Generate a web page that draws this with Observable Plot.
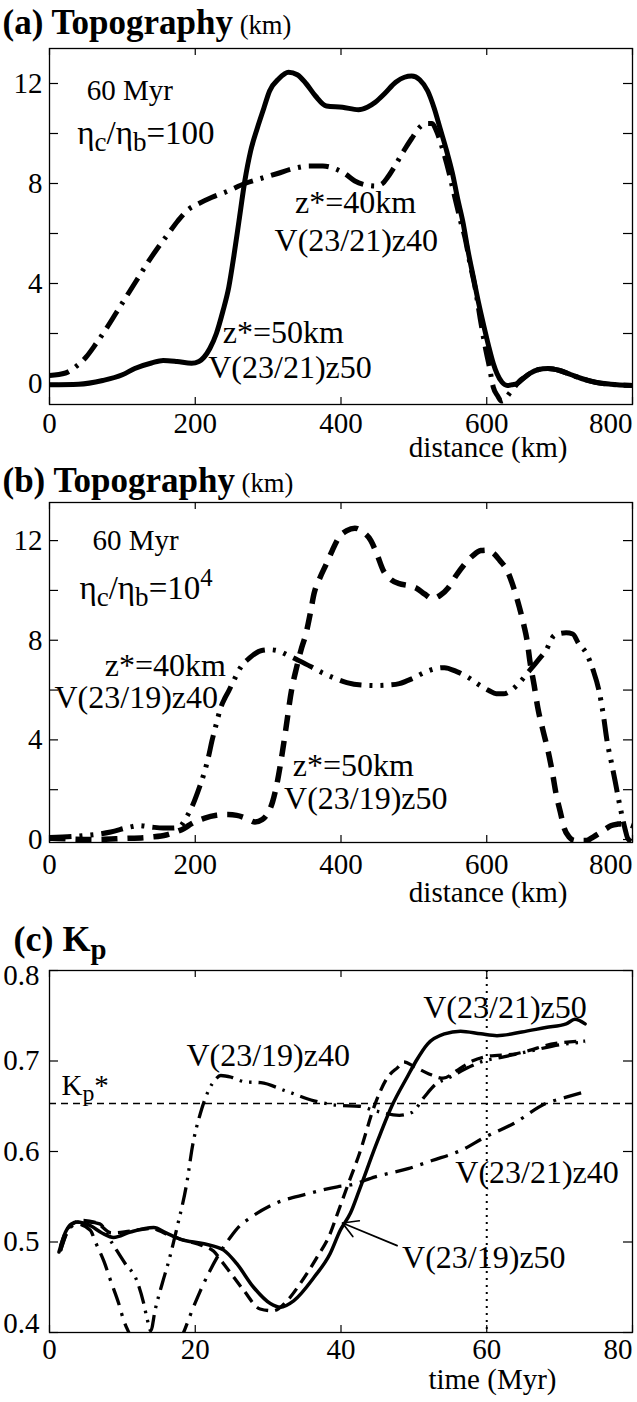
<!DOCTYPE html>
<html><head><meta charset="utf-8">
<script src="https://cdn.jsdelivr.net/npm/d3@7"></script>
<script src="https://cdn.jsdelivr.net/npm/@observablehq/plot@0.6"></script>
<style>
html,body{margin:0;padding:0;background:#fff;overflow:hidden;}
#chart svg{display:block;}
</style></head><body><div id="chart"></div>
<script>
// ---------------- data ----------------
// (a) topography, eta_c/eta_b = 100, 60 Myr  [distance km, topography km]
const a_V2321z50 = [[0,-0.05],[40,-0.03],[73,0.12],[100,0.35],[117,0.6],[140,0.82],[156,0.92],[175,0.88],[195,0.81],[205,0.88],[212,1.05],[220,1.4],[229,2.0],[238,2.9],[246,3.85],[253,5.1],[260,6.5],[268,8.1],[276,9.3],[285,10.2],[294,11.0],[302,11.7],[315,12.2],[328,12.45],[340,12.35],[352,12.0],[365,11.5],[380,11.1],[402,11.05],[424,10.95],[436,11.05],[447,11.25],[460,11.6],[475,12.05],[487,12.25],[497,12.3],[508,12.15],[519,11.7],[528,11.0],[536,10.2],[545,9.3],[553,8.4],[560,7.4],[567,6.5],[575,5.2],[582,4.2],[589,3.2],[596,2.3],[603,1.45],[609,0.8],[614,0.4],[621,0.05],[628,-0.08],[635,-0.05],[642,0.0],[650,0.2],[659,0.4],[670,0.55],[684,0.6],[700,0.52],[715,0.36],[730,0.2],[749,0.05],[770,-0.03],[800,-0.08]];
const a_V2321z40 = [[0,0.32],[22,0.42],[35,0.65],[50,1.05],[64,1.6],[78,2.2],[92,2.85],[106,3.5],[120,4.15],[134,4.8],[148,5.4],[162,5.95],[176,6.5],[190,6.95],[205,7.2],[223,7.45],[245,7.7],[268,8.0],[290,8.2],[313,8.4],[335,8.6],[357,8.7],[375,8.7],[391,8.6],[405,8.4],[419,8.1],[433,7.95],[447,7.9],[457,8.0],[464,8.25],[475,8.75],[486,9.3],[497,9.8],[508,10.25],[517,10.4],[525,10.4],[531,10.1],[536,9.7],[545,8.8],[553,7.85],[559,7.1],[564,6.5],[570,5.85],[577,4.8],[584,3.85],[591,2.6],[598,1.45],[604,0.6],[609,-0.15],[615,-0.5],[620,-0.7],[626,-0.6],[631,-0.4],[638,-0.15],[645,0.1],[652,0.25],[659,0.4],[670,0.55],[684,0.6],[700,0.52],[715,0.36],[730,0.2],[749,0.05],[770,-0.03],[800,-0.08]];
// (b) topography, eta_c/eta_b = 10^4, 60 Myr
const b_V2319z50 = [[0,0.05],[11,0.04],[61,0.0],[100,0.04],[140,0.1],[160,0.18],[173,0.3],[185,0.45],[195,0.64],[212,0.85],[229,0.97],[245,1.0],[257,0.97],[270,0.85],[282,0.7],[292,0.8],[299,1.03],[306,1.5],[313,2.37],[319,3.4],[324,4.37],[332,5.97],[339,6.9],[346,7.7],[352,8.27],[358,9.1],[363,9.87],[371,10.5],[380,11.07],[388,11.6],[397,12.12],[408,12.4],[419,12.5],[430,12.35],[441,12.0],[450,11.4],[458,10.8],[468,10.45],[480,10.27],[492,10.2],[503,10.1],[515,9.85],[525,9.67],[536,9.8],[547,10.1],[558,10.6],[570,11.07],[581,11.4],[592,11.6],[601,11.62],[609,11.5],[618,11.2],[628,10.8],[637,10.1],[645,9.3],[651,8.6],[656,7.87],[659,7.2],[665,6.2],[670,5.3],[677,4.4],[684,3.57],[690,2.7],[695,1.85],[701,1.1],[706,0.48],[713,0.1],[721,-0.04],[737,-0.04],[746,0.1],[754,0.24],[763,0.42],[771,0.56],[780,0.62],[788,0.64],[795,0.6],[800,0.55]];
const b_V2319z40 = [[0,0.08],[45,0.15],[84,0.3],[110,0.5],[123,0.56],[140,0.5],[156,0.46],[170,0.46],[179,0.52],[187,0.85],[195,1.28],[204,1.95],[212,2.65],[218,3.3],[223,3.97],[229,4.65],[235,5.3],[241,5.7],[246,5.97],[254,6.45],[262,6.9],[275,7.3],[290,7.58],[302,7.62],[313,7.58],[327,7.4],[341,7.2],[358,6.95],[374,6.7],[391,6.48],[408,6.3],[428,6.2],[447,6.18],[464,6.2],[480,6.26],[497,6.45],[514,6.7],[528,6.85],[542,6.9],[558,6.75],[575,6.5],[590,6.2],[603,5.98],[613,5.85],[623,5.85],[634,6.0],[645,6.3],[655,6.65],[662,6.9],[672,7.25],[681,7.58],[693,8.2],[709,8.3],[718,8.25],[726,7.87],[737,7.46],[746,6.8],[754,5.98],[760,5.0],[765,3.97],[771,3.1],[776,2.37],[781,1.6],[785,1.03],[790,0.4],[793,0.08],[800,-0.12]];
// (c) Kp versus time [Myr, Kp]
const c_V2321z50 = [[1.3,0.489],[2.2,0.511],[3.0,0.52],[3.8,0.522],[5.6,0.518],[7.2,0.51],[8.8,0.505],[11.1,0.511],[14.3,0.516],[16,0.51],[18,0.503],[21.2,0.498],[23.9,0.491],[25.7,0.476],[28,0.45],[30.3,0.432],[31.7,0.428],[33.5,0.435],[36.3,0.461],[38.5,0.487],[39.9,0.513],[41.3,0.532],[42.5,0.557],[44.7,0.605],[46.9,0.649],[49.2,0.684],[50.3,0.7],[51.9,0.719],[54.2,0.73],[56.4,0.733],[59.2,0.73],[61.4,0.728],[64.8,0.732],[68.1,0.737],[70.9,0.741],[72.1,0.746],[73.5,0.741]];
const c_V2319z50 = [[1.5,0.495],[2.5,0.515],[4.5,0.524],[6.5,0.521],[8.5,0.51],[11,0.512],[14,0.515],[16,0.509],[18,0.503],[21,0.496],[22.5,0.49],[23.7,0.478],[25.2,0.462],[26.7,0.446],[28.9,0.426],[30.7,0.424],[32.6,0.435],[34.4,0.454],[36.7,0.483],[38.5,0.509],[39.5,0.531],[40.8,0.56],[42.5,0.597],[44.7,0.653],[46.4,0.682],[47.8,0.693],[48.6,0.699],[50,0.694],[52,0.686],[54,0.681],[56,0.69],[58,0.7],[60,0.705],[64,0.708],[66,0.712],[68,0.717],[70,0.72],[73.5,0.722]];
const c_V2321z40 = [[1.5,0.49],[2.5,0.512],[3.8,0.52],[5.6,0.513],[6.3,0.5],[7.5,0.478],[8.4,0.457],[9.5,0.432],[10.2,0.413],[11,0.398],[12,0.38],[14,0.35],[16,0.36],[17.5,0.385],[18.4,0.4],[19.5,0.423],[20.7,0.446],[22,0.468],[23,0.483],[24.8,0.505],[26,0.517],[27.6,0.527],[30.8,0.542],[35.3,0.553],[39.5,0.561],[41.3,0.563],[44.7,0.572],[49.2,0.581],[52.5,0.59],[56.4,0.601],[59.8,0.616],[63.7,0.631],[68.1,0.653],[70.9,0.66],[73.5,0.666]];
const c_V2319z40 = [[1.5,0.49],[2.5,0.512],[3.8,0.522],[5.5,0.522],[6.9,0.52],[8.5,0.5],[10.4,0.476],[12,0.457],[12.9,0.433],[13.4,0.415],[13.9,0.402],[14.5,0.425],[15.5,0.455],[16.4,0.48],[17.5,0.516],[18.9,0.568],[19.6,0.605],[20.7,0.642],[21.8,0.667],[22.8,0.68],[23.5,0.684],[25,0.682],[26.8,0.677],[29,0.676],[32.4,0.667],[36.3,0.656],[39.7,0.651],[42.5,0.65],[44.7,0.645],[48,0.64],[49.7,0.643],[51.4,0.66],[53.1,0.675],[54.7,0.681],[57.5,0.693],[59.2,0.699],[62,0.704],[66,0.711],[70,0.718],[73.5,0.721]];
const kpStar = [0.653];
const markTime = [60];

// ticks
const distTicks = [0, 200, 400, 600, 800];
const topoTicks = [0, 2, 4, 6, 8, 10, 12];
const topoLabels = [0, 4, 8, 12];
const timeTicks = [0, 20, 40, 60, 80];
const kpTicks = [0.4, 0.5, 0.6, 0.7, 0.8];

// annotations
const a_notesStart = [{x: 51, y: 11.72, t: "60 Myr"}];
const a_eta = [{x: 38, y: 10.0, t: "η{sub:c}/η{sub:b}=100"}];
const a_notesMid = [{x: 420, y: 7.24, t: "z*=40km"}, {x: 421, y: 5.72, t: "V(23/21)z40"}, {x: 321, y: 2.05, t: "z*=50km"}, {x: 330, y: 0.64, t: "V(23/21)z50"}];
const b_notesStart = [{x: 59, y: 12.0, t: "60 Myr"}];
const b_eta = [{x: 41, y: 10.07, t: "η{sub:c}/η{sub:b}=10{sup:4}"}];
const b_notesMid = [{x: 159, y: 6.98, t: "z*=40km"}, {x: 119, y: 5.7, t: "V(23/19)z40"}, {x: 417, y: 2.95, t: "z*=50km"}, {x: 434, y: 1.65, t: "V(23/19)z50"}];
const c_notesMid = [{x: 30.0, y: 0.706, t: "V(23/19)z40"}, {x: 62.5, y: 0.759, t: "V(23/21)z50"}, {x: 66.9, y: 0.577, t: "V(23/21)z40"}, {x: 59.6, y: 0.483, t: "V(23/19)z50"}];
const c_notesStart = [{x: 1.65, y: 0.673, t: "K{sub:p}*"}];
const c_arrow = [{x1: 47.7, y1: 0.496, x2: 40.2, y2: 0.521}];

// ---------------- drawing ----------------
const W = 637, ML = 49, MR = 5;
const FONT = "'Liberation Serif','Times New Roman',serif";
const px = (d) => d[0], py = (d) => d[1];

function frameTicks(xd, yd, xt, yt, innerW, innerH) {
  const hx = (xd[1] - xd[0]) * 9 / innerW;   // y-tick length (9px) in x units
  const vy = (yd[1] - yd[0]) * 7 / innerH;   // x-tick length (7px) in y units
  const s = {stroke: "black", strokeWidth: 1.2};
  return [
    Plot.ruleY(yt, {y: d => d, x1: xd[0], x2: xd[0] + hx, ...s}),
    Plot.ruleY(yt, {y: d => d, x1: xd[1] - hx, x2: xd[1], ...s}),
    Plot.ruleX(xt, {x: d => d, y1: yd[0], y2: yd[0] + vy, ...s}),
    Plot.ruleX(xt, {x: d => d, y1: yd[1] - vy, y2: yd[1], ...s})
  ];
}

function xAxis(xt, pad) {
  return [
    Plot.axisX(xt.slice(0, -1), {anchor: "bottom", tickSize: 0, tickPadding: pad, fontSize: 29, label: null}),
    Plot.axisX(xt.slice(-1), {anchor: "bottom", tickSize: 0, tickPadding: pad, fontSize: 29, textAnchor: "end", label: null})
  ];
}
function yAxis(yl, pad, opts = {}) {
  return Plot.axisY(yl, {anchor: "left", tickSize: 0, tickPadding: pad, fontSize: 29, label: null, ...opts});
}

function title(t, dy, size) {
  return Plot.text([t], {text: d => d, frameAnchor: "top-left", dx: -47, dy, textAnchor: "start", lineAnchor: "middle", fontSize: size});
}

function richify(svg) {
  d3.select(svg).selectAll("text").each(function () {
    const el = this;
    const txt = el.textContent;
    if (!txt.includes("{")) return;
    const fs = parseFloat(getComputedStyle(el).fontSize);
    el.textContent = "";
    let shift = 0;
    const re = /\{(\w+):([^}]*)\}|([^{]+)/g;
    let m;
    while ((m = re.exec(txt))) {
      const kind = m[1] || "n";
      const s = m[1] ? m[2] : m[3];
      const ts = d3.select(el).append("tspan").text(s);
      let target = 0;
      if (kind === "sub") { ts.attr("font-size", fs * 0.82); target = fs * 0.2; }
      else if (kind === "bsub") { ts.attr("font-size", fs * 0.8).attr("font-weight", "bold"); target = fs * 0.22; }
      else if (kind === "sup") { ts.attr("font-size", fs * 0.75); target = -fs * 0.4; }
      else if (kind === "b") { ts.attr("font-weight", "bold"); }
      else if (kind === "s") { ts.attr("font-size", fs * 0.76).attr("font-weight", "normal"); }
      if (target !== shift) { ts.attr("dy", target - shift); shift = target; }
    }
  });
}

const root = document.getElementById("chart");
function add(p) { root.appendChild(p); richify(p); }

// ---- panel (a)
{
  const H = 458, MT = 48, MB = 54;
  const xd = [0, 800], yd = [-0.84, 13.4];
  add(Plot.plot({
    width: W, height: H, marginLeft: ML, marginRight: MR, marginTop: MT, marginBottom: MB,
    style: {fontFamily: FONT, color: "black", background: "white", overflow: "visible"},
    x: {domain: xd}, y: {domain: yd},
    marks: [
      Plot.line(a_V2321z40, {x: px, y: py, stroke: "black", strokeWidth: 5, strokeDasharray: "20,8,3,8", strokeLinecap: "butt", curve: "monotone-x", clip: true}),
      Plot.line(a_V2321z50, {x: px, y: py, stroke: "black", strokeWidth: 5, curve: "monotone-x", clip: true}),
      Plot.frame({stroke: "black", strokeWidth: 1.3}),
      ...frameTicks(xd, yd, distTicks, topoTicks, W - ML - MR, H - MT - MB),
      ...xAxis(distTicks, 8),
      yAxis(topoLabels, 7),
      Plot.text(a_notesStart, {x: "x", y: "y", text: "t", textAnchor: "start", fontSize: 29}),
      Plot.text(a_eta, {x: "x", y: "y", text: "t", textAnchor: "start", fontSize: 33}),
      Plot.text(a_notesMid, {x: "x", y: "y", text: "t", textAnchor: "middle", fontSize: 32}),
      Plot.text(["distance (km)"], {frameAnchor: "bottom-right", dx: -65, dy: 52, textAnchor: "end", fontSize: 29}),
      title("{b:(a) Topography}{s: (km)}", -26, 35)
    ]
  }));
}

// ---- panel (b)
{
  const H = 452, MT = 44, MB = 68;
  const xd = [0, 800], yd = [-0.12, 13.53];
  add(Plot.plot({
    width: W, height: H, marginLeft: ML, marginRight: MR, marginTop: MT, marginBottom: MB,
    style: {fontFamily: FONT, color: "black", background: "white", overflow: "visible"},
    x: {domain: xd}, y: {domain: yd},
    marks: [
      Plot.line(b_V2319z40, {x: px, y: py, stroke: "black", strokeWidth: 5, strokeDasharray: "22,8,3,8,3,8", strokeLinecap: "butt", curve: "monotone-x", clip: true}),
      Plot.line(b_V2319z50, {x: px, y: py, stroke: "black", strokeWidth: 5.5, strokeDasharray: "16,10", strokeLinecap: "butt", curve: "monotone-x", clip: true}),
      Plot.frame({stroke: "black", strokeWidth: 1.3}),
      ...frameTicks(xd, yd, distTicks, topoTicks, W - ML - MR, H - MT - MB),
      ...xAxis(distTicks, 11),
      yAxis(topoLabels, 7),
      Plot.text(b_notesStart, {x: "x", y: "y", text: "t", textAnchor: "start", fontSize: 29}),
      Plot.text(b_eta, {x: "x", y: "y", text: "t", textAnchor: "start", fontSize: 33}),
      Plot.text(b_notesMid, {x: "x", y: "y", text: "t", textAnchor: "middle", fontSize: 32}),
      Plot.text(["distance (km)"], {frameAnchor: "bottom-right", dx: -65, dy: 59, textAnchor: "end", fontSize: 29}),
      title("{b:(b) Topography}{s: (km)}", -22, 35)
    ]
  }));
}

// ---- panel (c)
{
  const H = 492, MT = 60, MB = 70;
  const xd = [0, 80], yd = [0.4, 0.8];
  const f1 = d3.format(".1f");
  add(Plot.plot({
    width: W, height: H, marginLeft: ML, marginRight: MR, marginTop: MT, marginBottom: MB,
    style: {fontFamily: FONT, color: "black", background: "white", overflow: "visible"},
    x: {domain: xd}, y: {domain: yd},
    marks: [
      Plot.ruleY(kpStar, {stroke: "black", strokeWidth: 1.6, strokeDasharray: "7,5"}),
      Plot.ruleX(markTime, {stroke: "black", strokeWidth: 2, strokeDasharray: "2,5"}),
      Plot.line(c_V2319z40, {x: px, y: py, stroke: "black", strokeWidth: 3.3, strokeDasharray: "18,7,2.5,7,2.5,7", strokeLinecap: "butt", curve: "monotone-x", clip: true}),
      Plot.line(c_V2321z40, {x: px, y: py, stroke: "black", strokeWidth: 3.3, strokeDasharray: "18,8,3,8", strokeLinecap: "butt", curve: "monotone-x", clip: true}),
      Plot.line(c_V2319z50, {x: px, y: py, stroke: "black", strokeWidth: 3.3, strokeDasharray: "12,7", strokeLinecap: "butt", curve: "monotone-x", clip: true}),
      Plot.line(c_V2321z50, {x: px, y: py, stroke: "black", strokeWidth: 3.5, curve: "monotone-x", clip: true}),
      Plot.arrow(c_arrow, {x1: "x1", y1: "y1", x2: "x2", y2: "y2", stroke: "black", strokeWidth: 1.7, headLength: 15}),
      Plot.frame({stroke: "black", strokeWidth: 1.3}),
      ...frameTicks(xd, yd, timeTicks, kpTicks, W - ML - MR, H - MT - MB),
      ...xAxis(timeTicks, 6),
      yAxis(kpTicks.slice(1, -1), 10, {tickFormat: f1}),
      yAxis(kpTicks.slice(-1), 10, {tickFormat: f1, dy: 5}),
      yAxis(kpTicks.slice(0, 1), 10, {tickFormat: f1, dy: -9}),
      Plot.text(c_notesMid, {x: "x", y: "y", text: "t", textAnchor: "middle", fontSize: 32}),
      Plot.text(c_notesStart, {x: "x", y: "y", text: "t", textAnchor: "start", fontSize: 29}),
      Plot.text(["time (Myr)"], {frameAnchor: "bottom-right", dx: -76, dy: 56, textAnchor: "end", fontSize: 29}),
      Plot.text(["{b:(c) K}{bsub:p}"], {text: d => d, frameAnchor: "top-left", dx: -36, dy: -31, textAnchor: "start", lineAnchor: "middle", fontSize: 36})
    ]
  }));
}
</script></body></html>
